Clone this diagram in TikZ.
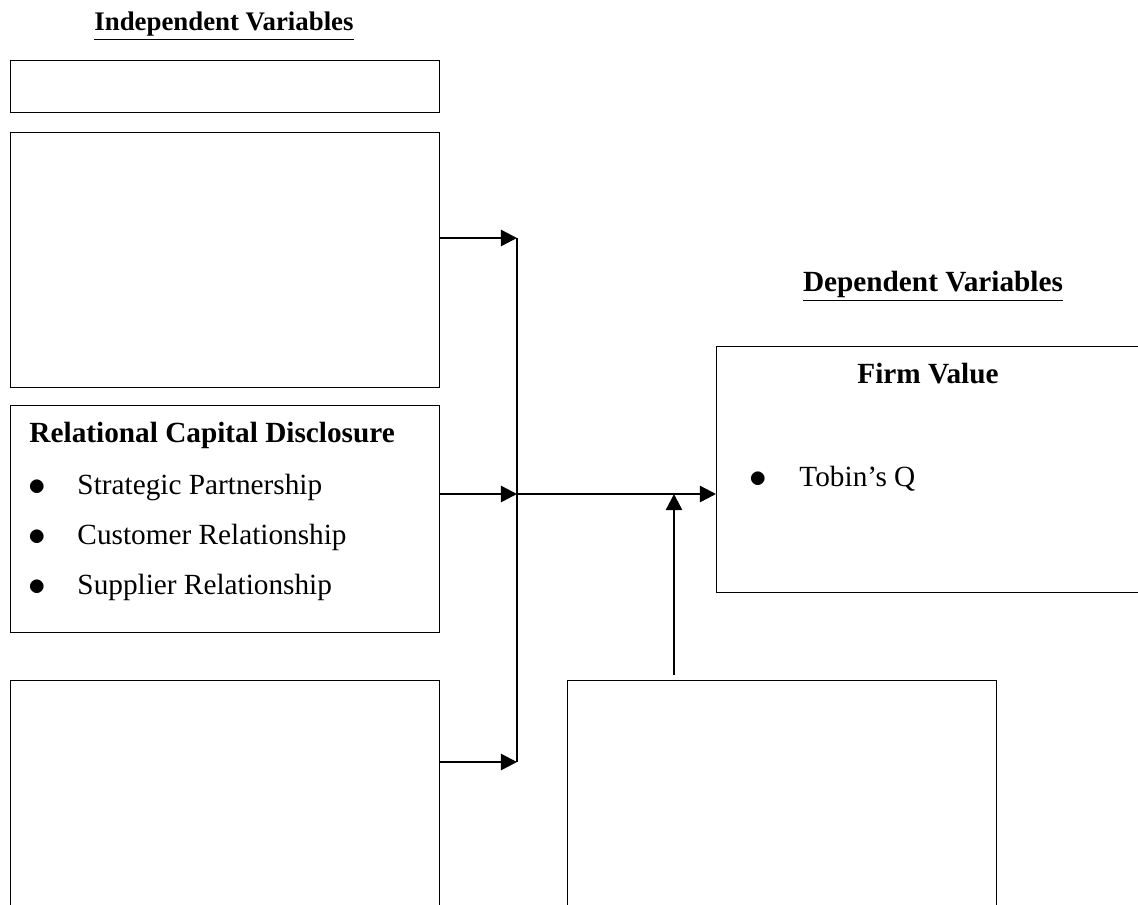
\documentclass[tikz,border=0pt]{standalone}
\usepackage{fontspec}
\setmainfont{Liberation Serif}
\usetikzlibrary{arrows.meta}
\newcommand\px{0.41pt}
\newcommand\bigdot{{\fontsize{15}{15}\selectfont$\bullet$}}
\begin{document}
\begin{tikzpicture}[x=\px,y=-\px,
  box/.style={draw,line width=.6pt,anchor=north west,inner sep=0pt},
  arr/.style={line width=1pt,-{Triangle[length=6.6pt,width=6.6pt]}},
  txt/.style={anchor=base west,inner sep=0pt,font=\fontsize{12}{14}\selectfont},
  head/.style={anchor=base,inner sep=0pt,font=\fontsize{12}{14}\selectfont\bfseries}]
\useasboundingbox (0,0) rectangle (1138,904);
\clip (0,0) rectangle (1138,904);
% independent side
\node[head,font=\fontsize{11}{13}\selectfont\bfseries] (indep) at (224,30) {\underline{Independent Variables}};
\node[box,minimum width=429*\px,minimum height=52*\px] (ivtop) at (10,60) {};
\node[box,minimum width=429*\px,minimum height=255*\px] (iva) at (10,132) {};
\node[box,minimum width=429*\px,minimum height=227*\px] (rcd) at (10,405) {};
\node[box,minimum width=429*\px,minimum height=300*\px] (ivb) at (10,680) {};
\node[txt,font=\fontsize{12}{14}\selectfont\bfseries] (rcdtitle) at (29,442) {Relational Capital Disclosure};
\foreach \y/\lab/\nm in {494/Strategic Partnership/sp,544/Customer Relationship/cr,594/Supplier Relationship/sr}{
  \node[txt] (b\nm) at (28,\y+1) {\bigdot};
  \node[txt] (\nm) at (77,\y) {\lab};
}
% dependent side
\node[head] (dep) at (933,291) {\underline{Dependent Variables}};
\node[box,minimum width=440*\px,minimum height=246*\px] (firm) at (716,346) {};
\node[head] (firmtitle) at (928,383) {Firm Value};
\node[txt] (bq) at (749,487) {\bigdot};
\node[txt] (tq) at (799,486) {Tobin’s Q};
\node[box,minimum width=429*\px,minimum height=300*\px] (moder) at (567,680) {};
% connectors
\coordinate (jtop) at (517,238);
\coordinate (jmid) at (517,494);
\coordinate (jbot) at (517,762);
\coordinate (mtop) at (674,675);
\draw[line width=1pt] (jtop) -- (jbot);
\draw[arr] (iva.east |- jtop) -- (jtop);
\draw[arr] (rcd.east |- jmid) -- (jmid);
\draw[arr] (ivb.east |- jbot) -- (jbot);
\draw[arr] (jmid) -- (firm.west |- jmid);
\draw[arr] (mtop) -- (mtop |- jmid);
\end{tikzpicture}
\end{document}
